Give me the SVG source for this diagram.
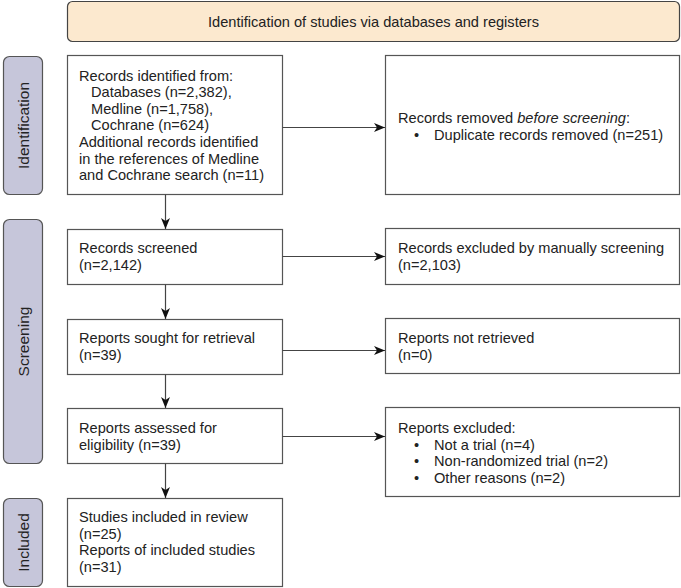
<svg xmlns="http://www.w3.org/2000/svg" width="681" height="588" viewBox="0 0 681 588">
<style>
text{font-family:"Liberation Sans",Arial,sans-serif;font-size:14.6px;fill:#222}
.box{fill:#fff;stroke:#555;stroke-width:1.2}
.side{fill:#c6c6da;stroke:#555;stroke-width:1.2}
.head{fill:#fce9cf;stroke:#444;stroke-width:1.2}
.conn{stroke:#444;stroke-width:1.2;fill:none;marker-end:url(#arr)}
.ctr{text-anchor:middle}
.lbl{font-size:15.5px}
</style>
<defs>
<marker id="arr" markerUnits="userSpaceOnUse" markerWidth="12" markerHeight="10" refX="11" refY="4.5" orient="auto">
<path d="M0,0 L11,4.5 L0,9 L3,4.5 Z" fill="#111"/>
</marker>
</defs>
<g id="header">
<rect class="head" x="67.5" y="1.5" width="612" height="40" rx="5"/>
<text class="ctr" x="373.5" y="26.5">Identification of studies via databases and registers</text>
</g>
<g id="side-identification">
<rect class="side" x="3.5" y="56.5" width="39" height="138" rx="6"/>
<text class="ctr lbl" transform="translate(28.5,125.5) rotate(-90)">Identification</text>
</g>
<g id="side-screening">
<rect class="side" x="3.5" y="219.5" width="39" height="244" rx="6"/>
<text class="ctr lbl" transform="translate(28.5,341.5) rotate(-90)">Screening</text>
</g>
<g id="side-included">
<rect class="side" x="3.5" y="498.5" width="39" height="88" rx="6"/>
<text class="ctr lbl" transform="translate(28.5,542.5) rotate(-90)">Included</text>
</g>
<g id="records-identified">
<rect class="box" x="67.5" y="55.5" width="215" height="139"/>
<text x="79" y="81">Records identified from:</text>
<text x="91" y="97">Databases (n=2,382),</text>
<text x="91" y="113.5">Medline (n=1,758),</text>
<text x="91" y="130">Cochrane (n=624)</text>
<text x="79" y="147">Additional records identified</text>
<text x="79" y="163.5">in the references of Medline</text>
<text x="79" y="180">and Cochrane search (n=11)</text>
</g>
<g id="records-removed">
<rect class="box" x="385.5" y="55.5" width="294" height="139"/>
<text x="398" y="123">Records removed <tspan font-style="italic">before screening</tspan>:</text>
<text x="414" y="139.5">•</text>
<text x="434" y="139.5">Duplicate records removed (n=251)</text>
</g>
<g id="records-screened">
<rect class="box" x="67.5" y="229.5" width="215" height="55"/>
<text x="79" y="253">Records screened</text>
<text x="79" y="269.5">(n=2,142)</text>
</g>
<g id="records-excluded">
<rect class="box" x="385.5" y="228.5" width="294" height="56"/>
<text x="398" y="253">Records excluded by manually screening</text>
<text x="398" y="269.5">(n=2,103)</text>
</g>
<g id="reports-sought">
<rect class="box" x="67.5" y="319.5" width="215" height="55"/>
<text x="79" y="343">Reports sought for retrieval</text>
<text x="79" y="359.5">(n=39)</text>
</g>
<g id="reports-not-retrieved">
<rect class="box" x="385.5" y="318.5" width="294" height="55"/>
<text x="398" y="343">Reports not retrieved</text>
<text x="398" y="359.5">(n=0)</text>
</g>
<g id="reports-assessed">
<rect class="box" x="67.5" y="408.5" width="215" height="55"/>
<text x="79" y="433">Reports assessed for</text>
<text x="79" y="449.5">eligibility (n=39)</text>
</g>
<g id="reports-excluded">
<rect class="box" x="385.5" y="407.5" width="294" height="89"/>
<text x="398" y="433">Reports excluded:</text>
<text x="414" y="449.5">•</text>
<text x="434" y="449.5">Not a trial (n=4)</text>
<text x="414" y="466">•</text>
<text x="434" y="466">Non-randomized trial (n=2)</text>
<text x="414" y="482.5">•</text>
<text x="434" y="482.5">Other reasons (n=2)</text>
</g>
<g id="included">
<rect class="box" x="67.5" y="498.5" width="215" height="88"/>
<text x="79" y="522">Studies included in review</text>
<text x="79" y="538.5">(n=25)</text>
<text x="79" y="555">Reports of included studies</text>
<text x="79" y="571.5">(n=31)</text>
</g>
<g id="connectors">
<line class="conn" x1="165.5" y1="194.5" x2="165.5" y2="229"/>
<line class="conn" x1="165.5" y1="284.5" x2="165.5" y2="319"/>
<line class="conn" x1="165.5" y1="374.5" x2="165.5" y2="408"/>
<line class="conn" x1="165.5" y1="463.5" x2="165.5" y2="498"/>
<line class="conn" x1="282.5" y1="127.5" x2="385" y2="127.5"/>
<line class="conn" x1="282.5" y1="256.5" x2="385" y2="256.5"/>
<line class="conn" x1="282.5" y1="350.5" x2="385" y2="350.5"/>
<line class="conn" x1="282.5" y1="436.5" x2="385" y2="436.5"/>
</g>
</svg>
